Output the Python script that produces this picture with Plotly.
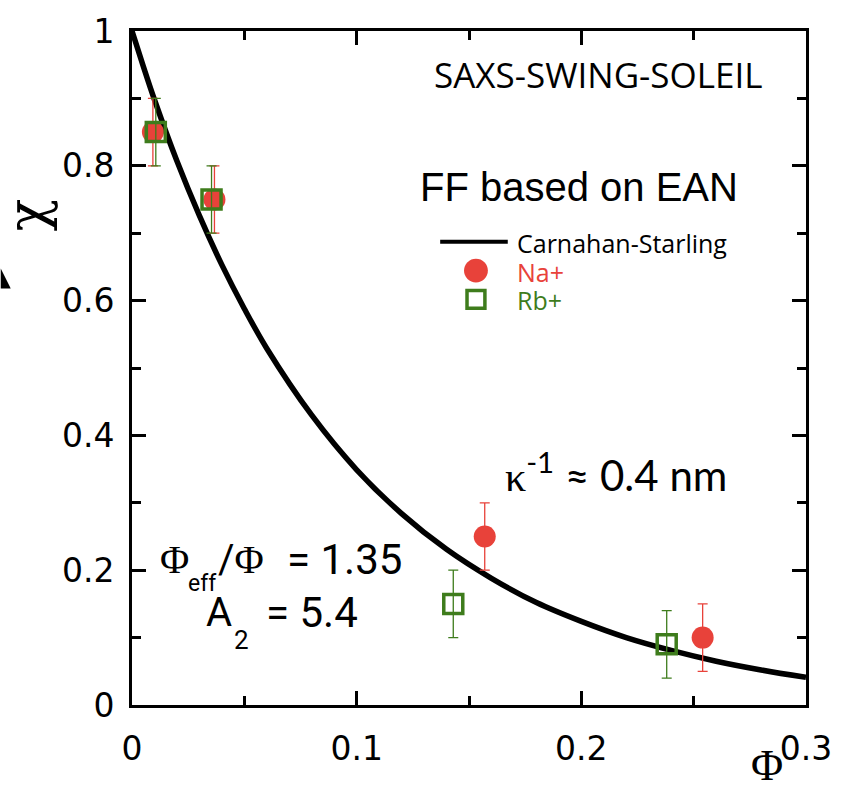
import plotly.graph_objects as go

# Carnahan-Starling curve, chi vs Phi (Phi_eff / Phi = 1.35)
cs_phi = [0.000, 0.005, 0.010, 0.020, 0.030, 0.040, 0.050, 0.060, 0.080, 0.100,
          0.120, 0.140, 0.160, 0.180, 0.200, 0.220, 0.240, 0.260, 0.280, 0.300]
cs_chi = [1.000, 0.948, 0.898, 0.807, 0.726, 0.653, 0.588, 0.529, 0.430, 0.349,
          0.284, 0.231, 0.188, 0.152, 0.124, 0.100, 0.081, 0.065, 0.052, 0.041]

# Na+ measurements
na_phi = [0.0093, 0.0367, 0.157, 0.254]
na_chi = [0.85, 0.75, 0.25, 0.10]
na_err = [0.05, 0.05, 0.05, 0.05]

# Rb+ measurements
rb_phi = [0.0106, 0.0354, 0.143, 0.238]
rb_chi = [0.85, 0.75, 0.15, 0.09]
rb_err = [0.05, 0.05, 0.05, 0.05]

x_ticks = [0, 0.1, 0.2, 0.3]
x_ticklabels = ["0", "0.1", "0.2", "0.3"]
y_ticks = [0, 0.2, 0.4, 0.6, 0.8, 1.0]
y_ticklabels = ["0", "0.2", "0.4", "0.6", "0.8", "1"]

RED = "#E8423A"
GREEN = "#3E7C1C"

W, H = 844, 786
L, R, T, B = 132, 34, 27, 81
PW, PH = W - L - R, H - T - B


def px(x):
    return (x - L) / PW


def py(y):
    return (H - B - y) / PH


fig = go.Figure()

fig.add_trace(go.Scatter(
    x=cs_phi, y=cs_chi, mode="lines", line=dict(color="black", width=5.5, shape="spline"),
    name="Carnahan-Starling", showlegend=False, hoverinfo="skip"))

fig.add_trace(go.Scatter(
    x=na_phi, y=na_chi, mode="markers", name="Na+", showlegend=False,
    marker=dict(symbol="circle", size=22, color=RED),
    error_y=dict(type="data", array=na_err, color=RED, thickness=1.3, width=5)))

fig.add_trace(go.Scatter(
    x=rb_phi, y=rb_chi, mode="markers", name="Rb+", showlegend=False,
    marker=dict(symbol="square-open", size=19, color=GREEN, line=dict(width=3.5, color=GREEN)),
    error_y=dict(type="data", array=rb_err, color=GREEN, thickness=1.3, width=5)))

axis_common = dict(
    showline=True, linecolor="black", linewidth=3, mirror="allticks",
    ticks="inside", ticklen=14, tickwidth=3, tickcolor="black",
    showgrid=False, zeroline=False,
    tickfont=dict(family="DejaVu Sans", size=33, color="black"),
)

fig.update_xaxes(
    range=[0, 0.3], tickvals=x_ticks, ticktext=x_ticklabels,
    minor=dict(dtick=0.05, ticks="inside", ticklen=9, tickwidth=3, tickcolor="black"),
    ticklabelstandoff=12, **axis_common)
fig.update_yaxes(
    range=[0, 1], tickvals=y_ticks, ticktext=y_ticklabels,
    minor=dict(dtick=0.1, ticks="inside", ticklen=9, tickwidth=3, tickcolor="black"),
    ticklabelstandoff=8, **axis_common)

SERIF = "Liberation Serif"
annotations = [
    dict(x=px(601), y=py(71), text="SAXS-SWING-SOLEIL",
         font=dict(family="Open Sans", size=35, color="black")),
    dict(x=px(582), y=py(184), text="FF based on EAN",
         font=dict(family="Liberation Sans", size=40, color="black")),
    dict(x=px(517), y=py(240), text="Carnahan-Starling", xanchor="left",
         font=dict(family="Open Sans", size=25, color="black")),
    dict(x=px(517), y=py(269), text="Na+", xanchor="left",
         font=dict(family="Open Sans", size=25, color=RED)),
    dict(x=px(517), y=py(298), text="Rb+", xanchor="left",
         font=dict(family="Open Sans", size=25, color=GREEN)),
    dict(x=px(619), y=py(471),
         text=f"<span style='font-family:{SERIF}'>κ</span><sup>-1</sup> ≈ 0.4 nm",
         font=dict(family="Lato", size=42, color="black")),
    # Phi_eff / Phi = 1.35
    dict(x=px(158), y=py(559), xanchor="left", text="Φ",
         font=dict(family=SERIF, size=40, color="black")),
    dict(x=px(186), y=py(583), xanchor="left", text="eff",
         font=dict(family="Roboto", size=23, color="black")),
    dict(x=px(217), y=py(559), xanchor="left",
         text=f"/<span style='font-family:{SERIF}'>Φ</span>",
         font=dict(family="Roboto", size=40, color="black")),
    dict(x=px(406), y=py(559), xanchor="right", text="= 1.35",
         font=dict(family="Roboto", size=42, color="black")),
    # A_2 = 5.4
    dict(x=px(204), y=py(612), xanchor="left", text="A",
         font=dict(family="Roboto", size=40, color="black")),
    dict(x=px(233), y=py(640), xanchor="left", text="2",
         font=dict(family="Roboto", size=26, color="black")),
    dict(x=px(361), y=py(612), xanchor="right", text="= 5.4",
         font=dict(family="Roboto", size=42, color="black")),
    dict(x=px(27), y=py(212), text="χ", textangle=-90,
         font=dict(family="DejaVu Serif", size=54, color="black")),
    dict(x=px(771), y=py(766), text="Φ",
         font=dict(family=SERIF, size=44, color="black")),
]
for a in annotations:
    a.setdefault("xref", "paper")
    a.setdefault("yref", "paper")
    a.setdefault("showarrow", False)
    a.setdefault("xanchor", "center")
    a.setdefault("yanchor", "middle")

shapes = [
    # legend glyphs
    dict(type="line", xref="paper", yref="paper", x0=px(442), x1=px(510), y0=py(239), y1=py(239),
         line=dict(color="black", width=4)),
    dict(type="circle", xref="paper", yref="paper", x0=px(466), x1=px(490), y0=py(256), y1=py(280),
         fillcolor=RED, line=dict(color=RED, width=0)),
    dict(type="rect", xref="paper", yref="paper", x0=px(469), x1=px(487), y0=py(288), y1=py(306),
         fillcolor="white", line=dict(color=GREEN, width=3.5)),
    # arrow tip at left edge
    dict(type="path", xref="paper", yref="paper",
         path=f"M {px(0)},{py(266)} L {px(10)},{py(286)} L {px(0)},{py(286)} Z",
         fillcolor="black", line=dict(color="black", width=0)),
]

fig.update_layout(
    width=W, height=H, margin=dict(l=L, r=R, t=T, b=B),
    plot_bgcolor="white", paper_bgcolor="white",
    annotations=annotations, shapes=shapes, showlegend=False,
)

fig.write_html("out.html")
